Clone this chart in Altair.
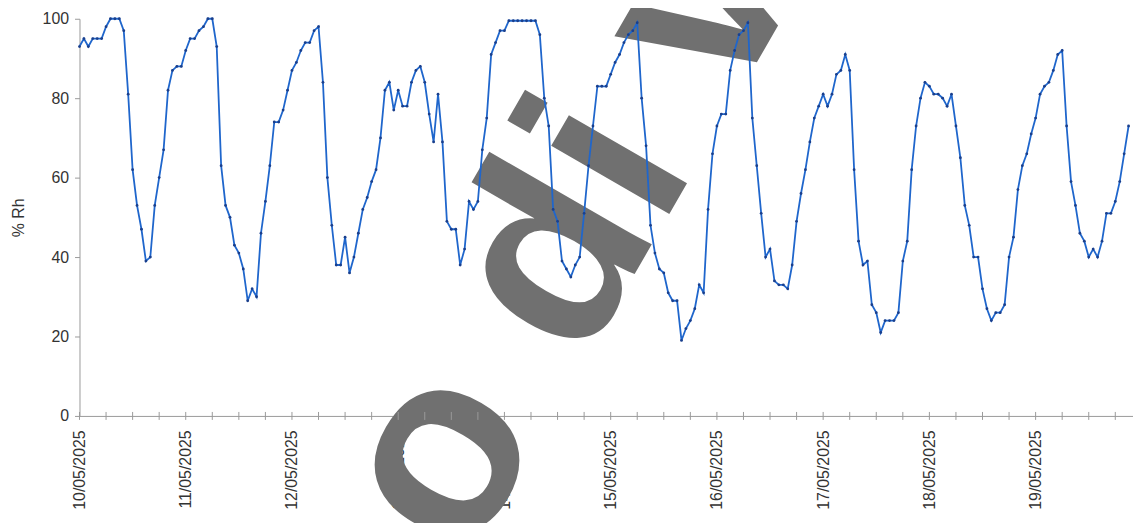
import altair as alt
import pandas as pd

# hourly relative humidity readings, starting 10/05/2025 00:00
day10 = [93, 95, 93, 95, 95, 95, 98, 100, 100, 100, 97, 81, 62, 53, 47, 39, 40, 53, 60, 67, 82, 87, 88, 88]
day11 = [92, 95, 95, 97, 98, 100, 100, 93, 63, 53, 50, 43, 41, 37, 29, 32, 30, 46, 54, 63, 74, 74, 77, 82]
day12 = [87, 89, 92, 94, 94, 97, 98, 84, 60, 48, 38, 38, 45, 36, 40, 46, 52, 55, 59, 62, 70, 82, 84, 77]
day13 = [82, 78, 78, 84, 87, 88, 84, 76, 69, 81, 69, 49, 47, 47, 38, 42, 54, 52, 54, 67, 75, 91, 94, 97]
day14 = [97, 99.5, 99.5, 99.5, 99.5, 99.5, 99.5, 99.5, 96, 80, 73, 52, 49, 39, 37, 35, 38, 40, 51, 63, 73, 83, 83, 83]
day15 = [86, 89, 91, 94, 96, 97, 99, 80, 68, 48, 41, 37, 36, 31, 29, 29, 19, 22, 24, 27, 33, 31, 52, 66]
day16 = [73, 76, 76, 87, 92, 96, 97, 99, 75, 63, 51, 40, 42, 34, 33, 33, 32, 38, 49, 56, 62, 69, 75, 78]
day17 = [81, 78, 81, 86, 87, 91, 87, 62, 44, 38, 39, 28, 26, 21, 24, 24, 24, 26, 39, 44, 62, 73, 80, 84]
day18 = [83, 81, 81, 80, 78, 81, 73, 65, 53, 48, 40, 40, 32, 27, 24, 26, 26, 28, 40, 45, 57, 63, 66, 71]
day19 = [75, 81, 83, 84, 87, 91, 92, 73, 59, 53, 46, 44, 40, 42, 40, 44, 51, 51, 54, 59, 66, 73]

watermark = ["o di v"]

values = day10 + day11 + day12 + day13 + day14 + day15 + day16 + day17 + day18 + day19
times = pd.date_range("2025-05-10 00:00", periods=len(values), freq="h")
df = pd.DataFrame({"t": times.strftime("%Y-%m-%dT%H:%M:%S"), "rh": values})

day_ticks = pd.date_range("2025-05-10", "2025-05-19", freq="D")
minor_ticks = pd.date_range("2025-05-10", "2025-05-19 18:00", freq="6h")
ticks_df = pd.DataFrame({"t": minor_ticks.strftime("%Y-%m-%dT%H:%M:%S")})

W, H = 1061, 400
FONT = "Liberation Sans"

xscale = alt.Scale(domain=[alt.DateTime(year=2025, month=5, date=10),
                           alt.DateTime(year=2025, month=5, date=19, hours=22)])

xaxis = alt.Axis(
    values=[alt.DateTime(year=2025, month=5, date=int(d.day)) for d in day_ticks],
    format="%d/%m/%Y", labelAngle=270, title=None, ticks=False,
    labelFontSize=16, labelFont=FONT, labelColor="#333333", labelPadding=14,
    domainColor="#9a9a9a", grid=False, labelOverlap=False,
)
yaxis = alt.Axis(
    values=[0, 20, 40, 60, 80, 100], title="% Rh", titleFontSize=16,
    titleFont=FONT, titleFontWeight="normal", titleColor="#333333", titlePadding=16,
    labelFontSize=16, labelFont=FONT, labelColor="#333333", labelPadding=6,
    tickSize=5, tickColor="#9a9a9a", domainColor="#9a9a9a", grid=False,
)

base = alt.Chart(df).encode(
    x=alt.X("t:T", scale=xscale, axis=xaxis),
    y=alt.Y("rh:Q", scale=alt.Scale(domain=[0, 100]), axis=yaxis),
)
line = base.mark_line(color="#1f66cc", strokeWidth=1.8)
pts = base.mark_point(filled=True, size=8, color="#1a3f8c", opacity=1)

minor = alt.Chart(ticks_df).mark_rule(color="#9a9a9a", strokeWidth=1).encode(
    x=alt.X("t:T", scale=xscale),
    y=alt.value(H - 4), y2=alt.value(H + 4),
)

wm = alt.Chart(pd.DataFrame({"txt": watermark})).mark_text(
    font=FONT, fontWeight="bold", fontSize=260, color="#707070",
    angle=300, align="left", baseline="alphabetic",
).encode(text="txt:N", x=alt.value(390), y=alt.value(550))

chart = alt.layer(wm, minor, line, pts).properties(
    width=W, height=H,
    autosize=alt.AutoSizeParams(type="none"),
    padding={"left": 72, "top": 9, "right": 0, "bottom": 106},
).configure_view(stroke=None)

chart.save("out.html", embed_options={"renderer": "svg", "actions": False})
